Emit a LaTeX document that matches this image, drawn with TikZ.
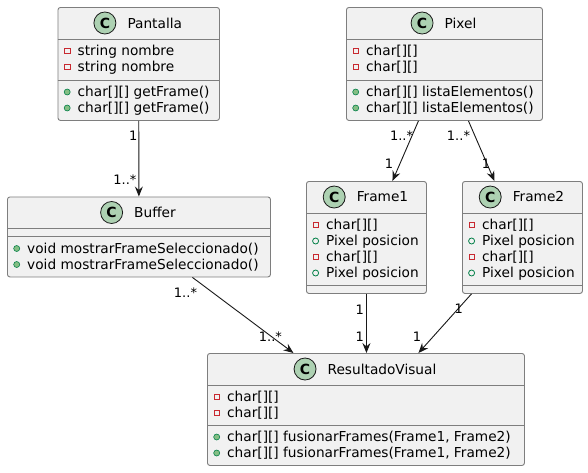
\documentclass[tikz,border=0pt]{standalone}
\usepackage{fontspec}
\setmainfont{DejaVu Sans}
\usetikzlibrary{arrows.meta,positioning}
\definecolor{boxfill}{HTML}{F1F1F1}
\definecolor{boxline}{HTML}{7E7E7E}
\definecolor{umlline}{HTML}{181818}
\definecolor{badgefill}{HTML}{ADD1B2}
\definecolor{privred}{HTML}{C82930}
\definecolor{publine}{HTML}{038048}
\definecolor{pubfill}{HTML}{84BE84}

\begin{document}
\begin{tikzpicture}[x=1pt,y=-1pt,>={Stealth[length=10pt,width=8pt,inset=3.5pt]},
 cls/.style={draw=boxline,fill=boxfill,rounded corners=2.5pt,line width=0.9pt,
 inner sep=0,anchor=north west},
 sepline/.style={draw=boxline,line width=0.9pt},
 cname/.style={inner sep=0,font=\fontsize{13.7}{16}\selectfont},
 badge/.style={circle,draw=umlline,fill=badgefill,line width=0.8pt,
 minimum size=22pt,inner sep=0,font=\fontsize{14}{14}\selectfont\bfseries},
 mem/.style={anchor=base west,inner sep=0,text height=11pt,text depth=2pt,
 font=\fontsize{13.7}{16}\selectfont},
 priv/.style={mem,label={[draw=privred,line width=0.8pt,minimum size=5.5pt,
 inner sep=0,xshift=-7pt]left:{}}},
 pubm/.style={mem,label={[circle,draw=publine,fill=pubfill,line width=0.6pt,
 minimum size=6pt,inner sep=0,xshift=-7pt]left:{}}},
 pubf/.style={mem,label={[circle,draw=publine,line width=0.8pt,
 minimum size=6pt,inner sep=0,xshift=-7pt]left:{}}},
 assoc/.style={->,draw=umlline,line width=0.9pt},
 mult/.style={inner sep=0,anchor=east,font=\fontsize{13}{13}\selectfont}]
\fill[white] (0,0) rectangle (588,472);

% Pantalla
\node[cls,minimum width=161.5pt,minimum height=113pt] (pantalla) at (57.5,7) {};
\node[cname] (pantallaN) at (154.75,23) {Pantalla};
\node[badge,left=11pt of pantallaN] (pantallaC) {C};
\draw[sepline] (pantalla.west |- 0,39) -- (pantalla.east |- 0,39);
\draw[sepline] (pantalla.west |- 0,80) -- (pantalla.east |- 0,80);
\node[priv] (pantallaA1) at (77.5,55.5) {string nombre};
\node[priv] (pantallaA2) at (77.5,71.5) {string nombre};
\node[pubm] (pantallaM1) at (77.5,96.5) {char[][] getFrame()};
\node[pubm] (pantallaM2) at (77.5,112.5) {char[][] getFrame()};

% Pixel
\node[cls,minimum width=196pt,minimum height=113pt] (pixel) at (346,7) {};
\node[cname] (pixelN) at (460.5,23) {Pixel};
\node[badge,left=11pt of pixelN] (pixelC) {C};
\draw[sepline] (pixel.west |- 0,39) -- (pixel.east |- 0,39);
\draw[sepline] (pixel.west |- 0,80) -- (pixel.east |- 0,80);
\node[priv] (pixelA1) at (366,55.5) {char[][]};
\node[priv] (pixelA2) at (366,71.5) {char[][]};
\node[pubm] (pixelM1) at (366,96.5) {char[][] listaElementos()};
\node[pubm] (pixelM2) at (366,112.5) {char[][] listaElementos()};

% Buffer
\node[cls,minimum width=263pt,minimum height=80pt] (buffer) at (7,196.5) {};
\node[cname] (bufferN) at (155,212.5) {Buffer};
\node[badge,left=11pt of bufferN] (bufferC) {C};
\draw[sepline] (buffer.west |- 0,228.5) -- (buffer.east |- 0,228.5);
\draw[sepline] (buffer.west |- 0,236.5) -- (buffer.east |- 0,236.5);
\node[pubm] (bufferM1) at (27,253) {void mostrarFrameSeleccionado()};
\node[pubm] (bufferM2) at (27,269) {void mostrarFrameSeleccionado()};

% Frame1
\node[cls,minimum width=120pt,minimum height=112pt] (frame1) at (306,181) {};
\node[cname] (frame1N) at (382.5,197) {Frame1};
\node[badge,left=11pt of frame1N] (frame1C) {C};
\draw[sepline] (frame1.west |- 0,213) -- (frame1.east |- 0,213);
\draw[sepline] (frame1.west |- 0,285) -- (frame1.east |- 0,285);
\node[priv] (frame1A1) at (326,229.5) {char[][]};
\node[pubf] (frame1A2) at (326,245.5) {Pixel posicion};
\node[priv] (frame1A3) at (326,261.5) {char[][]};
\node[pubf] (frame1A4) at (326,277.5) {Pixel posicion};

% Frame2
\node[cls,minimum width=120pt,minimum height=112pt] (frame2) at (462,181) {};
\node[cname] (frame2N) at (538.5,197) {Frame2};
\node[badge,left=11pt of frame2N] (frame2C) {C};
\draw[sepline] (frame2.west |- 0,213) -- (frame2.east |- 0,213);
\draw[sepline] (frame2.west |- 0,285) -- (frame2.east |- 0,285);
\node[priv] (frame2A1) at (482,229.5) {char[][]};
\node[pubf] (frame2A2) at (482,245.5) {Pixel posicion};
\node[priv] (frame2A3) at (482,261.5) {char[][]};
\node[pubf] (frame2A4) at (482,277.5) {Pixel posicion};

% ResultadoVisual
\node[cls,minimum width=317pt,minimum height=112pt] (resultado) at (207,353) {};
\node[cname] (resultadoN) at (382,369) {ResultadoVisual};
\node[badge,left=11pt of resultadoN] (resultadoC) {C};
\draw[sepline] (resultado.west |- 0,385) -- (resultado.east |- 0,385);
\draw[sepline] (resultado.west |- 0,425) -- (resultado.east |- 0,425);
\node[priv] (resultadoA1) at (227,401.5) {char[][]};
\node[priv] (resultadoA2) at (227,417.5) {char[][]};
\node[pubm] (resultadoM1) at (227,441.5) {char[][] fusionarFrames(Frame1, Frame2)};
\node[pubm] (resultadoM2) at (227,457.5) {char[][] fusionarFrames(Frame1, Frame2)};

% associations
\draw[assoc] (pantalla) -- (buffer)
 node[mult,pos=0.2,xshift=-1pt]{1}
 node[mult,pos=0.78,xshift=-2pt]{1..*};
\draw[assoc] ([xshift=-26pt]pixel.south) -- ([xshift=26pt]frame1.north)
 node[mult,pos=0.246,xshift=1.5pt]{1..*}
 node[mult,pos=0.705,xshift=-6.5pt]{1};
\draw[assoc] ([xshift=24pt]pixel.south) -- ([xshift=-28pt]frame2.north)
 node[mult,pos=0.246,xshift=-4.4pt]{1..*}
 node[mult,pos=0.705,xshift=3.7pt]{1};
\draw[assoc] ([xshift=53.5pt]buffer.south) -- ([xshift=-72.5pt]resultado.north)
 node[mult,pos=0.203,xshift=-15.5pt]{1..*}
 node[mult,pos=0.79,xshift=10.2pt]{1..*};
\draw[assoc] (frame1) -- (frame1 |- resultado.north)
 node[mult,pos=0.267,xshift=-2pt]{1}
 node[mult,pos=0.733,xshift=-2pt]{1};
\draw[assoc] ([xshift=-51pt]frame2.south) -- ([xshift=52.5pt]resultado.north)
 node[mult,pos=0.25,xshift=5.25pt]{1}
 node[mult,pos=0.733,xshift=-11.1pt]{1};
\end{tikzpicture}
\end{document}
